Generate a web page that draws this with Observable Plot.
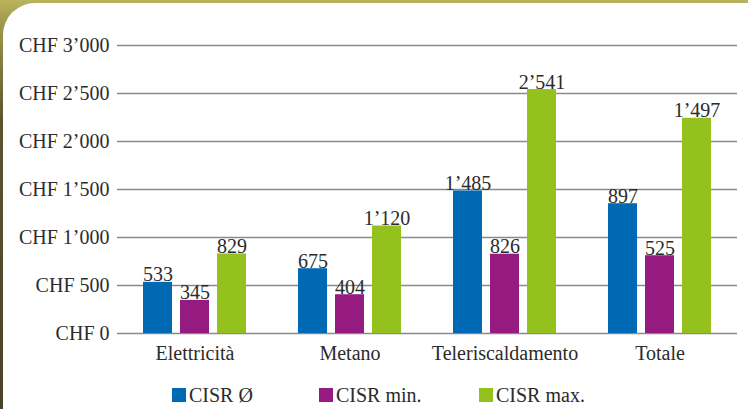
<!DOCTYPE html>
<html>
<head>
<meta charset="utf-8">
<script src="https://cdn.jsdelivr.net/npm/d3@7"></script>
<script src="https://cdn.jsdelivr.net/npm/@observablehq/plot@0.6"></script>
<style>
  body { margin: 0; }
  #page {
    position: relative; width: 748px; height: 409px; overflow: hidden;
    background: linear-gradient(to bottom, #bbb45e 0px, #a29b4c 20px, #5a552f 120px, #48432a 409px);
    font-family: "Liberation Serif", serif; color: #2b2b2b;
  }
  #panel {
    position: absolute; left: 3px; top: 3px; right: 0; bottom: 0;
    background: #fff; border-top-left-radius: 32px;
  }
  #chart { position: absolute; left: 0; top: 0; }
  .lg { position: absolute; top: 384px; display: flex; align-items: center; font-size: 20px; line-height: 22px; white-space: nowrap; }
  .lg .sw { width: 14px; height: 14px; margin-right: 3px; }
</style>
</head>
<body>
<div id="page">
  <div id="panel"></div>
  <div id="chart"></div>
  <div id="legend"></div>
</div>
<script>
const categories = ["Elettricità", "Metano", "Teleriscaldamento", "Totale"];
const series = ["CISR Ø", "CISR min.", "CISR max."];
// bar heights as drawn in the picture
const barAvg = [533, 675, 1485, 1352];
const barMin = [345, 404, 826, 810];
const barMax = [829, 1120, 2541, 2242];
// value labels as printed in the picture
const labelAvg = ["533", "675", "1’485", "897"];
const labelMin = ["345", "404", "826", "525"];
const labelMax = ["829", "1’120", "2’541", "1’497"];
const yTicks = [0, 500, 1000, 1500, 2000, 2500, 3000];
const yTickLabels = ["CHF 0", "CHF 500", "CHF 1’000", "CHF 1’500", "CHF 2’000", "CHF 2’500", "CHF 3’000"];

const seriesColors = ["#0069b4", "#951b81", "#95c11f"];

const values = [barAvg, barMin, barMax];
const labels = [labelAvg, labelMin, labelMax];
const rows = categories.flatMap((c, i) => series.map((s, j) => ({
  category: c, series: s, value: values[j][i], label: labels[j][i]
})));

const chart = Plot.plot({
  width: 748, height: 409,
  marginLeft: 116, marginRight: 11, marginTop: 45, marginBottom: 76,
  style: { fontFamily: "Liberation Serif, serif", fontSize: "20px", color: "#2b2b2b", background: "transparent", overflow: "visible" },
  fx: { domain: categories, padding: 0, label: null, axis: "bottom", tickSize: 0, tickPadding: 12 },
  x: { domain: series, paddingInner: 0.2105, paddingOuter: 0.648, axis: null },
  y: { domain: [0, 3000], ticks: yTicks, tickFormat: d => yTickLabels[yTicks.indexOf(d)], tickSize: 0, tickPadding: 8, label: null },
  color: { domain: series, range: seriesColors },
  marks: [
    Plot.ruleY(yTicks, { stroke: "#8a8a8a", strokeWidth: 1.5 }),
    Plot.barY(rows, { fx: "category", x: "series", y: "value", fill: "series" }),
    Plot.text(rows, { fx: "category", x: "series", y: "value", text: "label", lineAnchor: "bottom", dy: -1, fill: "#2b2b2b" })
  ]
});
document.getElementById("chart").appendChild(chart);

const legendLefts = [172, 319, 479];
const legend = document.getElementById("legend");
series.forEach((s, i) => {
  const item = document.createElement("div");
  item.className = "lg";
  item.style.left = legendLefts[i] + "px";
  const sw = document.createElement("span");
  sw.className = "sw";
  sw.style.background = seriesColors[i];
  const t = document.createElement("span");
  t.textContent = s;
  item.appendChild(sw); item.appendChild(t);
  legend.appendChild(item);
});
</script>
</body>
</html>
